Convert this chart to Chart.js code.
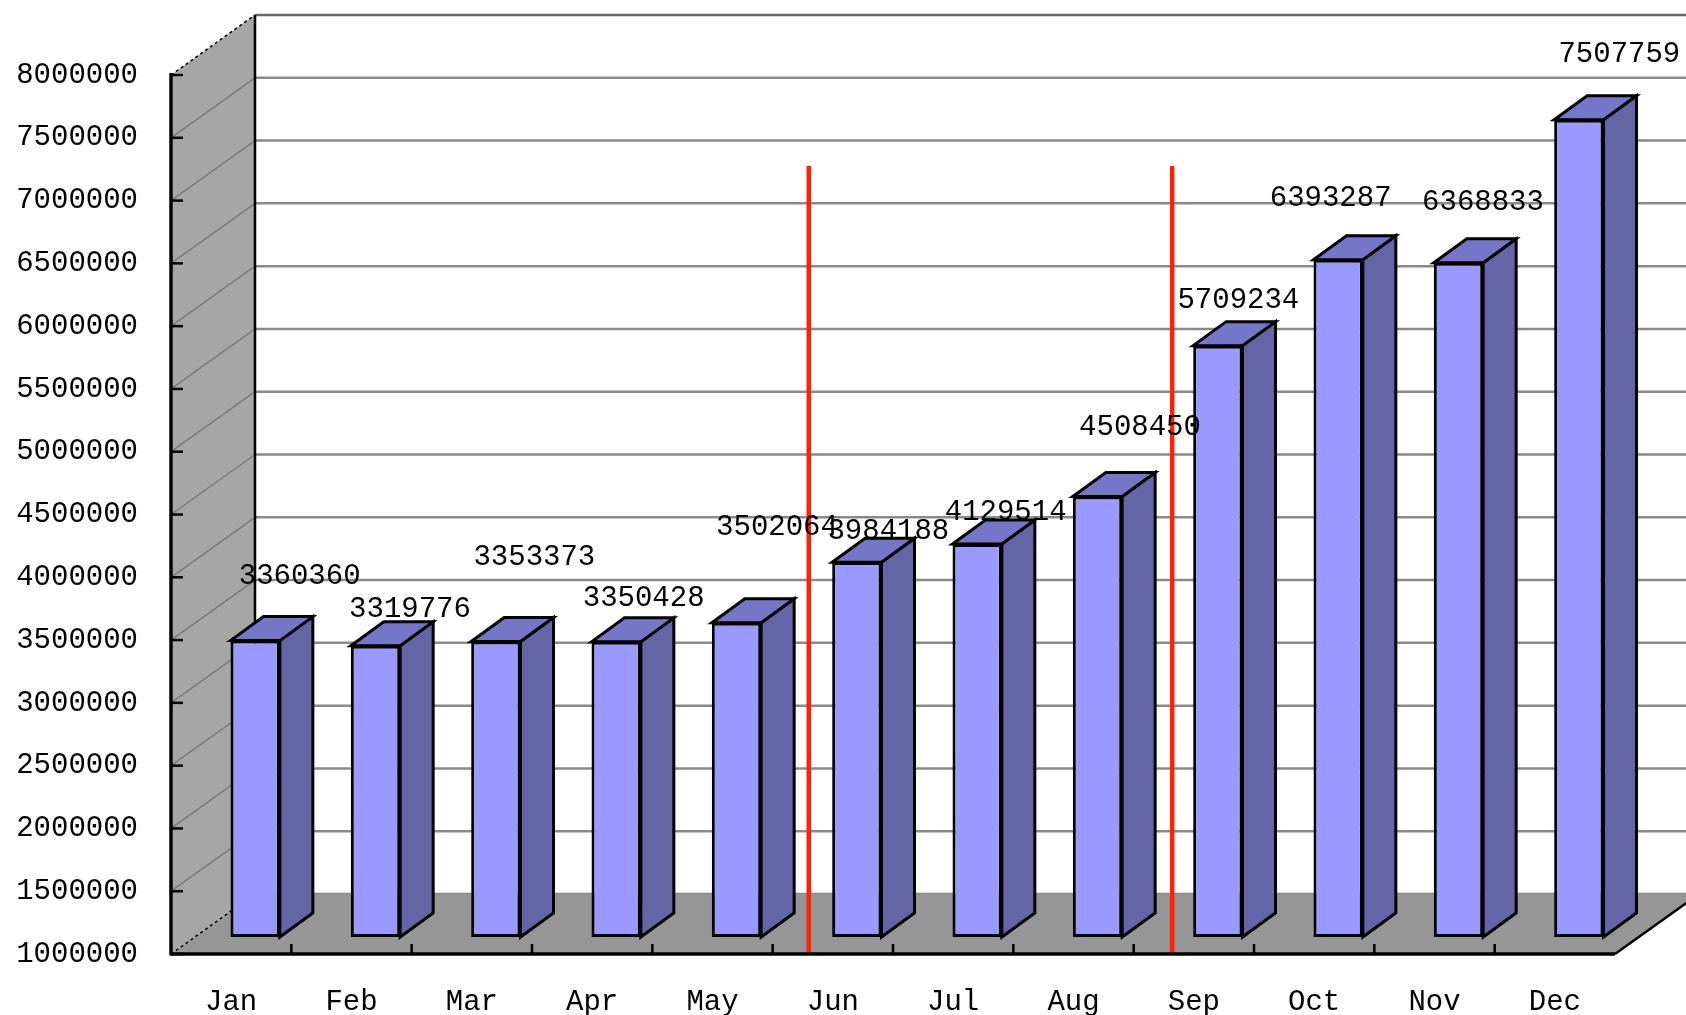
<!DOCTYPE html>
<html>
<head>
  <title>Monthly Totals</title>
  <script src="https://cdn.jsdelivr.net/npm/chart.js@4.4.0/dist/chart.umd.min.js"></script>
  <style>
    html, body { margin: 0; padding: 0; background: #fff; overflow: hidden; }
  </style>
</head>
<body>
  <canvas id="monthlyChart" width="1686" height="1015"></canvas>

  <script>
    // data
    const months = ['Jan', 'Feb', 'Mar', 'Apr', 'May', 'Jun', 'Jul', 'Aug', 'Sep', 'Oct', 'Nov', 'Dec'];
    const totals = [3360360, 3319776, 3353373, 3350428, 3502064, 3984188, 4129514, 4508450, 5709234, 6393287, 6368833, 7507759];
    const yMin = 1000000;
    const yMax = 8000000;
    const yStep = 500000;
    // red separators, in category units, and how high they reach
    const dividerAt = [4.8, 7.82];
    const dividerTop = 7275000;
    // where the value labels sit relative to the top of each bar
    const labelNudge = [[28, -40], [18, -12], [22, -60], [11, -20], [24, -71], [15, -7],
                        [12, -8], [26, -45], [4, -21], [-24, -37], [8, -36], [24, -41]];

    const FONT = '29px "Liberation Mono"';
    const DX = 84, DY = -60;     // depth of the walls
    const BX0 = 24, BY0 = -17;   // front face of bars pushed back a bit
    const BDX = 33, BDY = -24;   // depth of one bar

    function poly(ctx, pts) {
      ctx.beginPath();
      ctx.moveTo(pts[0][0], pts[0][1]);
      for (let i = 1; i < pts.length; i++) ctx.lineTo(pts[i][0], pts[i][1]);
      ctx.closePath();
    }

    function line(ctx, x1, y1, x2, y2) {
      ctx.beginPath();
      ctx.moveTo(x1, y1);
      ctx.lineTo(x2, y2);
      ctx.stroke();
    }

    const box3d = {
      id: 'box3d',
      beforeDraw(chart) {
        const ctx = chart.ctx;
        const a = chart.chartArea;
        const ys = chart.scales.y;
        const W = chart.width;
        ctx.save();
        ctx.fillStyle = '#fff';
        ctx.fillRect(0, 0, W, chart.height);

        // back wall grid
        ctx.strokeStyle = '#8a8a8a';
        ctx.lineWidth = 2.5;
        for (let v = yMin; v <= yMax; v += yStep) {
          const y = ys.getPixelForValue(v) + DY;
          if (v === yMax) ctx.strokeStyle = '#666';
          line(ctx, a.left + DX, y, W, y);
        }

        // left side wall
        poly(ctx, [[a.left, a.top], [a.left + DX, a.top + DY], [a.left + DX, a.bottom + DY], [a.left, a.bottom]]);
        ctx.fillStyle = '#a6a6a6';
        ctx.fill();
        ctx.strokeStyle = '#7c7c7c';
        ctx.lineWidth = 1.5;
        for (let v = yMin + yStep; v < yMax; v += yStep) {
          const y = ys.getPixelForValue(v);
          line(ctx, a.left, y, a.left + DX, y + DY);
        }

        // floor
        poly(ctx, [[a.left, a.bottom], [a.left + DX, a.bottom + DY], [a.right + DX, a.bottom + DY], [a.right, a.bottom]]);
        ctx.fillStyle = '#969696';
        ctx.fill();

        // edges
        ctx.strokeStyle = '#000';
        ctx.lineWidth = 2.5;
        line(ctx, a.left + DX, a.top + DY, a.left + DX, a.bottom + DY);
        line(ctx, a.right, a.bottom, a.right + DX, a.bottom + DY);
        ctx.setLineDash([3, 3]);
        ctx.lineWidth = 1.5;
        line(ctx, a.left, a.top, a.left + DX, a.top + DY);
        line(ctx, a.left, a.bottom, a.left + DX, a.bottom + DY);
        ctx.setLineDash([]);
        ctx.lineWidth = 3.5;
        line(ctx, a.left, a.top - 2, a.left, a.bottom + 1.5);
        line(ctx, a.left, a.bottom, a.right, a.bottom);

        // tick marks
        ctx.lineWidth = 2.5;
        for (let v = yMin; v <= yMax; v += yStep) {
          const y = ys.getPixelForValue(v);
          line(ctx, a.left, y, a.left + 12, y);
        }
        const catW = (a.right - a.left) / months.length;
        for (let k = 1; k < months.length; k++) {
          const x = a.left + k * catW;
          line(ctx, x, a.bottom, x, a.bottom - 10);
        }
        ctx.restore();
      },
      beforeDatasetsDraw(chart) {
        chart.ctx.save();
        chart.ctx.translate(BX0, BY0);
      },
      afterDatasetsDraw(chart) {
        const ctx = chart.ctx;
        ctx.restore();
        ctx.save();
        const meta = chart.getDatasetMeta(0);
        ctx.lineWidth = 3;
        ctx.strokeStyle = '#000';
        ctx.lineJoin = 'miter';
        meta.data.forEach(bar => {
          const p = bar.getProps(['x', 'y', 'base', 'width'], true);
          const L = p.x - p.width / 2 + BX0;
          const R = p.x + p.width / 2 + BX0;
          const T = p.y + BY0;
          const B = p.base + BY0;
          poly(ctx, [[R, T], [R + BDX, T + BDY], [R + BDX, B + BDY], [R, B]]);
          ctx.fillStyle = '#6464a6';
          ctx.fill();
          ctx.stroke();
          poly(ctx, [[L, T], [L + BDX, T + BDY], [R + BDX, T + BDY], [R, T]]);
          ctx.fillStyle = '#7676c8';
          ctx.fill();
          ctx.stroke();
        });

        // red separators
        const xs = chart.scales.x;
        const ys = chart.scales.y;
        ctx.strokeStyle = '#ff2200';
        ctx.lineWidth = 4.5;
        dividerAt.forEach(pos => {
          const x = xs.getPixelForValue(pos);
          line(ctx, x, ys.getPixelForValue(dividerTop), x, chart.chartArea.bottom - 2);
        });

        // value labels
        ctx.font = FONT;
        ctx.fillStyle = '#000';
        ctx.textAlign = 'center';
        ctx.textBaseline = 'middle';
        meta.data.forEach((bar, i) => {
          const p = bar.getProps(['x', 'y'], true);
          const ax = p.x + BX0 + BDX / 2;
          const ay = p.y + BY0 + BDY;
          ctx.fillText(String(totals[i]), ax + labelNudge[i][0], ay + labelNudge[i][1]);
        });
        ctx.restore();
      }
    };

    const ctx = document.getElementById('monthlyChart').getContext('2d');
    new Chart(ctx, {
      type: 'bar',
      data: {
        labels: months,
        datasets: [{
          data: totals,
          base: yMin,
          backgroundColor: '#9999ff',
          borderColor: '#000',
          borderWidth: 3,
          borderSkipped: false,
          barPercentage: 0.41,
          categoryPercentage: 1,
          clip: false
        }]
      },
      options: {
        responsive: false,
        animation: false,
        layout: { padding: { top: 75, right: 71, left: 0, bottom: 0 } },
        plugins: { legend: { display: false }, tooltip: { enabled: false } },
        scales: {
          x: {
            grid: { display: false },
            border: { display: false },
            ticks: { color: '#000', font: { family: 'Liberation Mono', size: 29 }, padding: 23, maxRotation: 0 },
            afterFit(s) { s.height = 61; }
          },
          y: {
            min: yMin,
            max: yMax,
            grid: { display: false, drawTicks: false },
            border: { display: false },
            ticks: {
              stepSize: yStep,
              color: '#000',
              padding: 33,
              font: { family: 'Liberation Mono', size: 29 },
              callback: v => String(v)
            },
            afterFit(s) { s.width = 171; }
          }
        }
      },
      plugins: [box3d]
    });
  </script>
</body>
</html>
